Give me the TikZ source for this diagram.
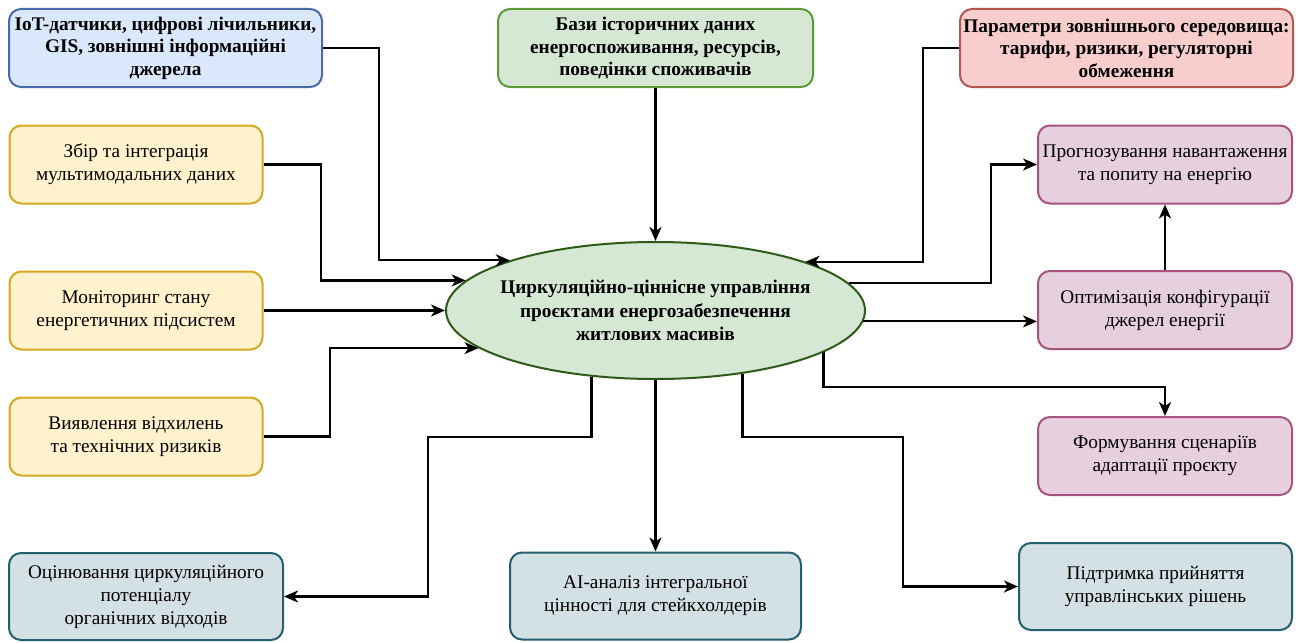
\documentclass[tikz,border=0pt]{standalone}
\usepackage{fontspec}
\setmainfont{Liberation Serif}
\usetikzlibrary{arrows.meta,calc,shapes.geometric}

\definecolor{bluefill}{HTML}{DAE8FC}
\definecolor{bluedraw}{HTML}{4A6AAD}
\definecolor{greenfill}{HTML}{D5E8D4}
\definecolor{greendraw}{HTML}{5C9A3C}
\definecolor{coredraw}{HTML}{2D5A16}
\definecolor{redfill}{HTML}{F8CECC}
\definecolor{reddraw}{HTML}{B85450}
\definecolor{yellowfill}{HTML}{FFF2CC}
\definecolor{yellowdraw}{HTML}{D6A91E}
\definecolor{pinkfill}{HTML}{E6D0DE}
\definecolor{pinkdraw}{HTML}{A8527F}
\definecolor{tealfill}{HTML}{D3E0E4}
\definecolor{tealdraw}{HTML}{245F6C}

\begin{document}
\begin{tikzpicture}[x=1pt,y=-1pt,
  box/.style={draw, rounded corners=12pt, line width=2pt, align=center,
    inner xsep=1pt, inner ysep=2pt, font=\fontsize{19.3}{23}\selectfont},
  boldbox/.style={box, font=\fontsize{19.3}{22.5}\selectfont\bfseries},
  srcblue/.style={boldbox, fill=bluefill, draw=bluedraw},
  srcgreen/.style={boldbox, fill=greenfill, draw=greendraw},
  srcred/.style={boldbox, fill=redfill, draw=reddraw},
  taskyellow/.style={box, fill=yellowfill, draw=yellowdraw},
  taskpink/.style={box, fill=pinkfill, draw=pinkdraw},
  taskteal/.style={box, fill=tealfill, draw=tealdraw},
  % negative inner sep keeps the ellipse at its minimum size around wide text
  core/.style={ellipse, draw=coredraw, fill=greenfill, line width=2pt,
    minimum width=419pt, minimum height=137pt, inner xsep=-30pt, inner ysep=-12pt,
    align=center, font=\fontsize{19.3}{23.5}\selectfont\bfseries},
  arr/.style={line width=2.2pt, -{Stealth[length=14pt,width=12pt,inset=4pt]}}
]
\useasboundingbox (0,0) rectangle (1300,642);

% data sources
\node[srcblue, minimum width=313pt, minimum height=78pt] (iot) at (165.5,48)
  {IoT-датчики, цифрові лічильники,\\GIS, зовнішні інформаційні\\джерела};
\node[srcgreen, minimum width=315pt, minimum height=78pt] (hist) at (655.5,48)
  {Бази історичних даних\\енергоспоживання, ресурсів,\\поведінки споживачів};
\node[srcred, minimum width=333pt, minimum height=78pt] (env) at (1126.5,48)
  {Параметри зовнішнього середовища:\\тарифи, ризики, регуляторні\\обмеження};

% left column
\node[taskyellow, minimum width=253pt, minimum height=78pt] (collect) at (136,164.5)
  {Збір та інтеграція\\мультимодальних даних};
\node[taskyellow, minimum width=253pt, minimum height=78pt] (monit) at (136,310.5)
  {Моніторинг стану\\енергетичних підсистем};
\node[taskyellow, minimum width=253pt, minimum height=78pt] (detect) at (136,436.5)
  {Виявлення відхилень\\та технічних ризиків};

% central process
\node[core] (core) at (655.5,310.5)
  {Циркуляційно-ціннісне управління\\проєктами енергозабезпечення\\житлових масивів};

% right column
\node[taskpink, minimum width=254pt, minimum height=78pt] (forecast) at (1165,164.5)
  {Прогнозування навантаження\\та попиту на енергію};
\node[taskpink, minimum width=254pt, minimum height=78pt] (optim) at (1165,310)
  {Оптимізація конфігурації\\джерел енергії};
\node[taskpink, minimum width=254pt, minimum height=78pt] (scen) at (1165,456)
  {Формування сценаріїв\\адаптації проєкту};

% bottom row
\node[taskteal, minimum width=274pt, minimum height=87pt] (circ) at (146,596.5)
  {Оцінювання циркуляційного\\потенціалу\\органічних відходів};
\node[taskteal, minimum width=291pt, minimum height=87pt] (ai) at (655.5,596)
  {AI-аналіз інтегральної\\цінності для стейкхолдерів};
\node[taskteal, minimum width=273pt, minimum height=87pt] (support) at (1155.5,586.5)
  {Підтримка прийняття\\управлінських рішень};

% points on the ellipse border
\coordinate (pA) at (core.161.86);
\coordinate (pB) at (core.171.13);
\coordinate (pD) at (core.192.06);
\coordinate (pE) at (core.18.14);
\coordinate (pF) at (core.8.87);
\coordinate (pG) at (core.357.38);
\coordinate (pH) at (core.346.86);
\coordinate (pI) at (core.324.6);
\coordinate (pK) at (core.226.3);

% routing columns and rows
\coordinate (kA) at (379,0);
\coordinate (kB) at (321,0);
\coordinate (kD) at (330,0);
\coordinate (kE) at (923,0);
\coordinate (kF) at (991,0);
\coordinate (rowLow) at (0,437);
\coordinate (rowMid) at (0,387);
\coordinate (kS) at (903,0);
\coordinate (kC) at (428,0);

% inputs
\draw[arr] (iot.east) -| (kA |- pA) -- (pA);
\draw[arr] (hist.south) -- (core.north);
\draw[arr] (env.west) -| (kE |- pE) -- (pE);
\draw[arr] (collect.east) -| (kB |- pB) -- (pB);
\draw[arr] (monit.east) -- (core.west);
\draw[arr] (detect.east) -| (kD |- pD) -- (pD);

% outputs
\draw[arr] (pF) -| (kF |- forecast.west) -- (forecast.west);
\draw[arr] (pG) -- (pG -| optim.west);
\draw[arr] (optim.north) -- (forecast.south);
\draw[arr] (pH) |- (scen.north |- rowMid) -- (scen.north);
\draw[arr] (pI) |- (kS |- rowLow) |- (support.west);
\draw[arr] (core.south) -- (ai.north);
\draw[arr] (pK) |- (kC |- rowLow) |- (circ.east);
\end{tikzpicture}
\end{document}
